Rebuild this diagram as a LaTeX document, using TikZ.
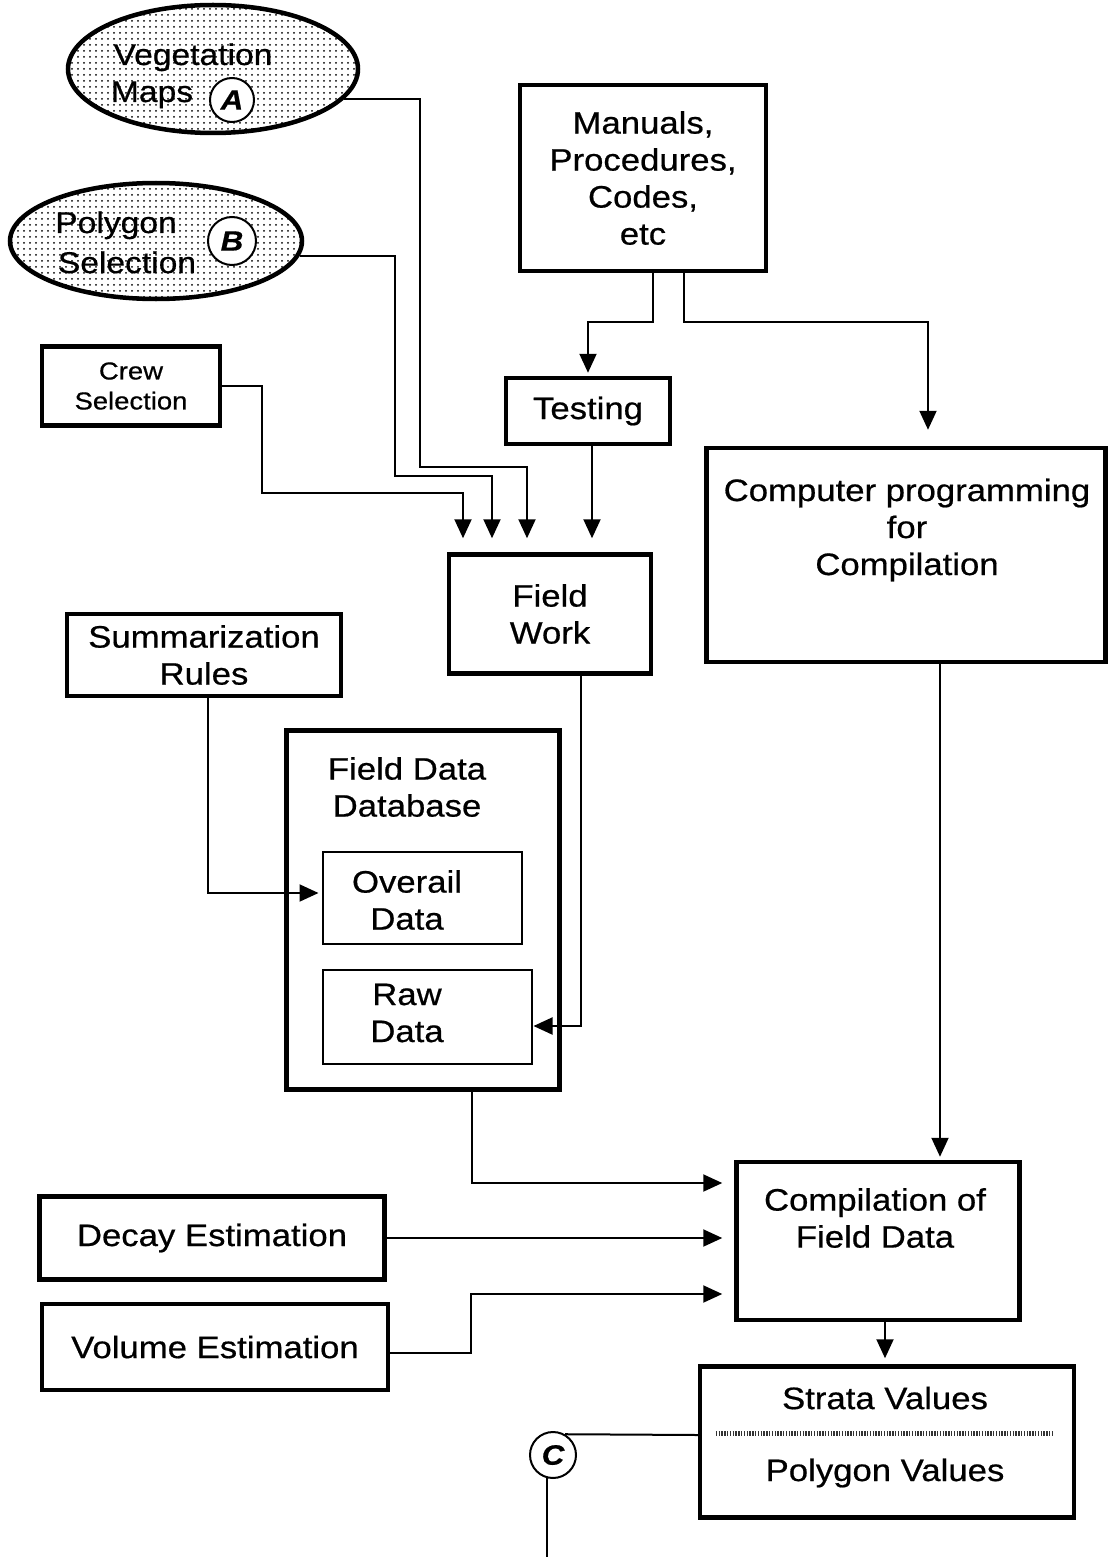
\documentclass[tikz,border=0pt]{standalone}
\usepackage{fontspec}
\setmainfont[FakeStretch=1.12,FakeBold=0.6]{Liberation Sans}
\usetikzlibrary{arrows.meta,shapes.geometric,patterns.meta,calc}

\begin{document}
\begin{tikzpicture}[x=1pt,y=-1pt,
  box/.style={draw,line width=4.5pt,rectangle,inner sep=0pt,align=center,
              font=\fontsize{31}{37}\selectfont},
  thinbox/.style={draw,line width=2pt,rectangle,inner sep=0pt},
  lbl/.style={inner sep=0pt,align=center,font=\fontsize{31}{37}\selectfont},
  ovltxt/.style={inner sep=0pt,font=\fontsize{30}{36}\selectfont},
  conn/.style={line width=2pt},
  arr/.style={conn,-{Triangle[length=19pt,width=17pt]}},
  tag/.style={circle,draw,line width=2pt,fill=white,inner sep=0pt,
              font=\fontsize{28}{28}\selectfont\bfseries\itshape},
  mapoval/.style={ellipse,draw,line width=4.5pt,inner sep=0pt,
                  pattern={Dots[distance=6pt,radius=1pt]}},
  sep/.style={line width=5pt,dash pattern=on 1.4pt off 1.4pt,black!80}
]
\useasboundingbox (0,0) rectangle (1110,1557);

% source ovals
\node[mapoval,minimum width=290pt,minimum height=128pt] (veg) at (213,69) {};
\node[ovltxt,anchor=base] (vegt1) at (193,65) {Vegetation};
\node[ovltxt,anchor=base] (vegt2) at (152,102) {Maps};
\node[tag,minimum size=44pt] (tagA) at (232,100) {A};

\node[mapoval,minimum width=292pt,minimum height=116pt] (pol) at (156,241) {};
\node[ovltxt,anchor=base] (polt1) at (116,233) {Polygon};
\node[ovltxt,anchor=base] (polt2) at (127,273) {Selection};
\node[tag,minimum size=48pt] (tagB) at (232,241) {B};

% boxes
\node[box,minimum width=246pt,minimum height=186pt] (man) at (643,178)
  {Manuals,\\Procedures,\\Codes,\\etc};
\node[box,minimum width=164pt,minimum height=66pt] (test) at (588,411) {Testing};
\node[box,minimum width=178pt,minimum height=79pt,
      font=\fontsize{24.5}{30}\selectfont] (crew) at (131,386) {Crew\\Selection};
\node[box,minimum width=202pt,minimum height=119pt] (fw) at (550,614) {Field\\Work};

\node[box,minimum width=399pt,minimum height=214pt] (comp) at (906,555) {};
\node[lbl] (compt) at (907,530) {Computer programming\\for\\Compilation};

\node[box,minimum width=274pt,minimum height=82pt] (summ) at (204,655)
  {Summarization\\Rules};

\node[box,line width=5pt,minimum width=273pt,minimum height=359pt] (db) at (423,910) {};
\node[lbl] (dbt) at (407,787) {Field Data\\Database};
\node[thinbox,minimum width=199pt,minimum height=92pt] (ovr) at (422,898) {};
\node[lbl] (ovrt) at (407,900) {Overail\\Data};
\node[thinbox,minimum width=209pt,minimum height=94pt] (raw) at (427,1017) {};
\node[lbl] (rawt) at (407,1013) {Raw\\Data};

\node[box,minimum width=283pt,minimum height=158pt] (compil) at (878,1241) {};
\node[lbl] (cmpt) at (875,1218) {Compilation of\\Field Data};

\node[box,minimum width=345pt,minimum height=83pt] (decay) at (212,1238) {Decay Estimation};
\node[box,minimum width=346pt,minimum height=86pt] (vol) at (215,1347) {Volume Estimation};

\node[box,minimum width=374pt,minimum height=151pt] (strata) at (887,1442) {};
\node[lbl] (strt1) at (885,1398) {Strata Values};
\node[lbl] (strt2) at (885,1473) {Polygon Values};
\draw[sep] ($(strata.west)+(18,-9)$) -- ($(strata.east)+(-24,-9)$);

\node[tag,minimum size=46pt] (tagC) at (553,1455) {C};
\coordinate (cend) at (547,1557);

% connectors
\draw[arr,shorten >=14pt] (veg.-13) -| (420,467) -| ($(fw.north)+(-23,0)$);
\draw[arr,shorten >=14pt] (pol.-6) -| (395,476) -| ($(fw.north)+(-58,0)$);
\draw[arr,shorten >=14pt] (crew.east) -| (262,493) -| ($(fw.north)+(-87,0)$);
\draw[arr,shorten >=14pt] ($(test.south)+(4,0)$) -- ($(fw.north)+(42,0)$);

\draw[arr,shorten >=3pt] ($(man.south)+(10,0)$) -- ++(0,49) -| (test.north);
\draw[arr,shorten >=16pt] ($(man.south)+(41,0)$) -- ++(0,49) -| ($(comp.north)+(22,0)$);
\draw[arr,shorten >=3pt] ($(comp.south)+(34,0)$) -- ($(compil.north)+(62,0)$);

\draw[arr,shorten >=3pt] ($(summ.south)+(4,0)$) |- ($(ovr.west)+(0,-5)$);
\draw[arr,shorten >=1pt] ($(fw.south)+(31,0)$) |- ($(raw.east)+(0,9)$);

\draw[arr,shorten >=12pt] ($(db.south)+(49,0)$) |- ($(compil.west)+(0,-58)$);
\draw[arr,shorten >=12pt] (decay.east) -- (decay.east -| compil.west);
\draw[arr,shorten >=12pt] ($(vol.east)+(0,6)$) -| (471,1294) -- ($(compil.west)+(0,53)$);
\draw[arr,shorten >=6pt] ($(compil.south)+(7,0)$) -- ($(strata.north)+(-2,0)$);

\draw[conn] ($(strata.west)+(0,-7)$) -- (tagC.60);
\draw[conn] (tagC.255) -- (tagC.255 |- cend);
\end{tikzpicture}
\end{document}
